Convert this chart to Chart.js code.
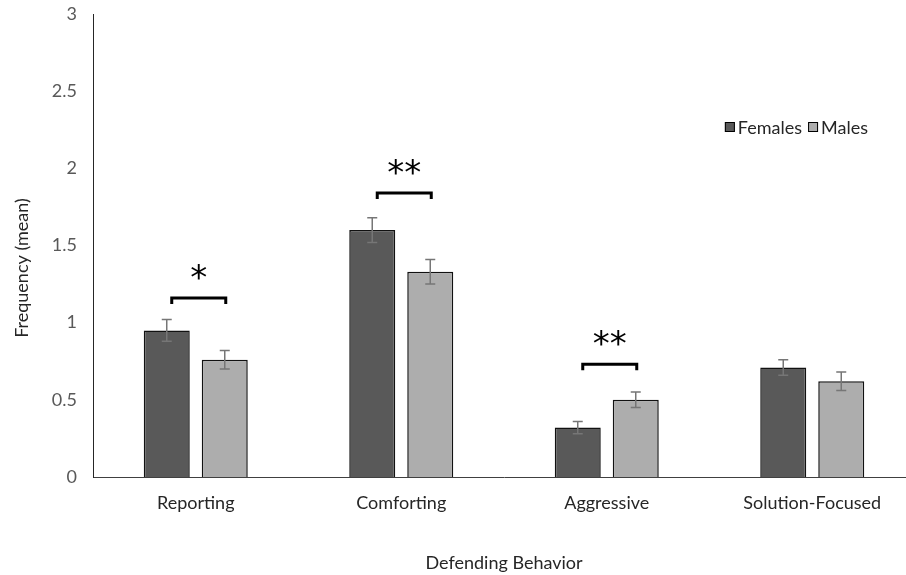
<!DOCTYPE html>
<html>
<head>
<meta charset="utf-8">
<script src="https://cdn.jsdelivr.net/npm/chart.js@4"></script>
<style>
  html, body { margin: 0; padding: 0; background: #fff; overflow: hidden; width: 906px; height: 575px; }
  #wrap { width: 920px; height: 575px; }
</style>
</head>
<body>
<div id="wrap"><canvas id="barChart" width="920" height="575"></canvas></div>
<script>
// ----------------------
// Data
// ----------------------
const categories = ['Reporting', 'Comforting', 'Aggressive', 'Solution-Focused'];
const females = [0.95, 1.60, 0.32, 0.71];
const males = [0.76, 1.33, 0.50, 0.62];
const femalesErr = [0.07, 0.08, 0.04, 0.05];
const malesErr = [0.06, 0.08, 0.05, 0.06];
const yTicks = [0, 0.5, 1, 1.5, 2, 2.5, 3];

// significance brackets: category index, bracket height, label
const sigGroups = [0, 1, 2];
const sigHeights = [1.16, 1.84, 0.73];
const sigLabels = ['*', '**', '**'];

const FONT = 'Lato';
const errors = [femalesErr, malesErr];

// error bars + brackets + legend + y title
const extras = {
  id: 'extras',
  afterDatasetsDraw(chart) {
    const ctx = chart.ctx;
    const y = chart.scales.y;

    // error bars
    ctx.save();
    ctx.strokeStyle = '#767676';
    ctx.lineWidth = 1.5;
    chart.data.datasets.forEach((ds, di) => {
      chart.getDatasetMeta(di).data.forEach((bar, i) => {
        const top = y.getPixelForValue(ds.data[i] + errors[di][i]);
        const bot = y.getPixelForValue(ds.data[i] - errors[di][i]);
        ctx.beginPath();
        ctx.moveTo(bar.x, top); ctx.lineTo(bar.x, bot);
        ctx.moveTo(bar.x - 5, top); ctx.lineTo(bar.x + 5, top);
        ctx.moveTo(bar.x - 5, bot); ctx.lineTo(bar.x + 5, bot);
        ctx.stroke();
      });
    });
    ctx.restore();

    // significance brackets
    ctx.save();
    ctx.strokeStyle = '#000';
    ctx.fillStyle = '#000';
    ctx.lineWidth = 3;
    sigGroups.forEach((g, k) => {
      const x1 = chart.getDatasetMeta(0).data[g].x + 5;
      const x2 = chart.getDatasetMeta(1).data[g].x + 1;
      const yy = y.getPixelForValue(sigHeights[k]);
      ctx.beginPath();
      ctx.moveTo(x1, yy + 6); ctx.lineTo(x1, yy); ctx.lineTo(x2, yy); ctx.lineTo(x2, yy + 6);
      ctx.stroke();
      ctx.font = '34px "DejaVu Sans"';
      ctx.textAlign = 'center';
      ctx.textBaseline = 'alphabetic';
      const txt = sigLabels[k];
      const m = ctx.measureText(txt);
      const cy = yy - 26;
      ctx.fillText(txt, (x1 + x2) / 2, cy + (m.actualBoundingBoxAscent - m.actualBoundingBoxDescent) / 2);
    });
    ctx.restore();

    // legend (top right, inside plot)
    ctx.save();
    ctx.font = `18px ${FONT}`;
    ctx.textBaseline = 'middle';
    ctx.textAlign = 'left';
    const ly = 127;
    const sq = 10;
    const items = chart.data.datasets.map(ds => ({ label: ds.label, color: ds.backgroundColor }));
    let total = 0;
    items.forEach((it, i) => { total += sq + 3 + ctx.measureText(it.label).width + (i ? 6 : 0); });
    let lx = 868 - total;
    items.forEach((it, i) => {
      if (i) lx += 6;
      ctx.fillStyle = it.color;
      ctx.fillRect(lx, ly - sq / 2, sq, sq);
      ctx.strokeStyle = '#000';
      ctx.lineWidth = 1;
      ctx.strokeRect(lx + 0.5, ly - sq / 2 + 0.5, sq - 1, sq - 1);
      lx += sq + 3;
      ctx.fillStyle = '#262626';
      ctx.fillText(it.label, lx, ly + 1);
      lx += ctx.measureText(it.label).width;
    });

    // y axis title
    ctx.translate(22, 268);
    ctx.rotate(-Math.PI / 2);
    ctx.textAlign = 'center';
    ctx.fillStyle = '#262626';
    ctx.fillText('Frequency (mean)', 0, 0);
    ctx.restore();
  }
};

new Chart(document.getElementById('barChart').getContext('2d'), {
  type: 'bar',
  data: {
    labels: categories,
    datasets: [
      { label: 'Females', data: females, backgroundColor: '#595959', borderColor: '#111', borderWidth: 1.5,
        categoryPercentage: 0.5645, barPercentage: 0.793 },
      { label: 'Males', data: males, backgroundColor: '#adadad', borderColor: '#111', borderWidth: 1.5,
        categoryPercentage: 0.5645, barPercentage: 0.793 }
    ]
  },
  options: {
    responsive: false,
    animation: false,
    devicePixelRatio: 1,
    layout: { padding: { left: 0, right: 5, top: 14, bottom: 0 } },
    plugins: { legend: { display: false }, tooltip: { enabled: false } },
    scales: {
      x: {
        grid: { display: false, drawTicks: false },
        border: { display: true, color: '#404040', width: 1 },
        ticks: { color: '#262626', font: { family: FONT, size: 18 }, padding: 15, maxRotation: 0 },
        title: { display: true, text: 'Defending Behavior', color: '#262626',
                 font: { family: FONT, size: 18 }, padding: { top: 0, bottom: 1 } },
        afterFit: s => { s.height = 98; s.paddingLeft = 0; s.paddingRight = 0; }
      },
      y: {
        min: 0, max: 3,
        grid: { display: false, drawTicks: false },
        border: { display: true, color: '#262626', width: 1 },
        ticks: { color: '#595959', font: { family: FONT, size: 18 }, padding: 16,
                 callback: v => String(v) },
        afterBuildTicks: s => { s.ticks = yTicks.map(v => ({ value: v })); },
        afterFit: s => { s.width = 93; s.paddingTop = 0; s.paddingBottom = 0; }
      }
    }
  },
  plugins: [extras]
});
</script>
</body>
</html>
